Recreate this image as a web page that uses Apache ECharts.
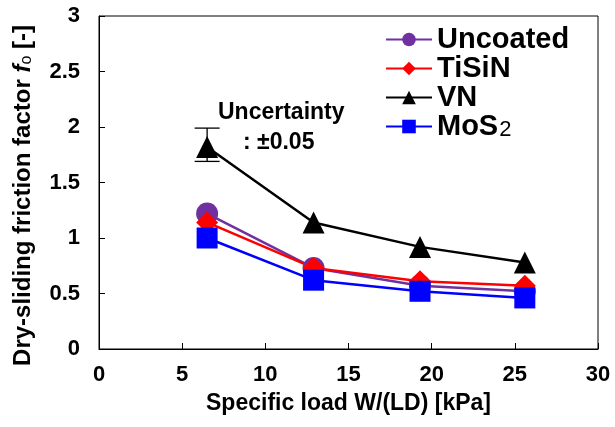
<!DOCTYPE html>
<html>
<head>
<meta charset="utf-8">
<script src="https://cdn.jsdelivr.net/npm/echarts@6/dist/echarts.min.js"></script>
<style>
html,body{margin:0;padding:0;background:#fff;}
#c{width:615px;height:427px;}
</style>
</head>
<body>
<div id="c"></div>
<script>
const loads = [6.5, 12.9, 19.3, 25.6];
const uncoated = [1.22, 0.73, 0.57, 0.52];
const tisin = [1.14, 0.73, 0.61, 0.57];
const vn = [1.82, 1.14, 0.92, 0.78];
const mos2 = [1.00, 0.62, 0.52, 0.46];
const errX = [6.5];
const errLow = [1.69];
const errHigh = [1.99];
const xTicks = [0, 5, 10, 15, 20, 25, 30];
const yTicks = [0, 0.5, 1, 1.5, 2, 2.5, 3];

const FONT = "'Liberation Sans', Arial, sans-serif";
const pairs = (xs, ys) => xs.map((x, i) => [x, ys[i]]);

const chart = echarts.init(document.getElementById('c'), null, {renderer: 'canvas'});

function mkLine(name, data, color, symbol, size) {
  return {
    name: name, type: 'line', data: pairs(loads, data),
    symbol: symbol, symbolSize: size,
    itemStyle: {color: color},
    lineStyle: {color: color, width: 2.5},
    animation: false
  };
}

const option = {
  backgroundColor: '#fff',
  animation: false,
  grid: {left: 99, right: 17, top: 16, bottom: 78, show: true, borderColor: '#000', borderWidth: 1},
  legend: {
    orient: 'vertical', left: 385, top: 25, padding: 0,
    itemWidth: 46, itemHeight: 17, itemGap: 0, itemTextGap: 3,
    textStyle: {
      fontFamily: FONT, fontWeight: 'bold', fontSize: 29, color: '#000', lineHeight: 29,
      rich: {
        b: {fontFamily: FONT, fontWeight: 'bold', fontSize: 29, color: '#000', lineHeight: 29},
        s: {fontFamily: FONT, fontWeight: 'normal', fontSize: 22, color: '#000', lineHeight: 29, verticalAlign: 'bottom', padding: [6, 0, 0, 1]}
      }
    },
    formatter: function (n) { return n === 'MoS2' ? '{b|MoS}{s|2}' : n; },
    data: ['Uncoated', 'TiSiN', 'VN', 'MoS2']
  },
  xAxis: {
    type: 'value', min: xTicks[0], max: xTicks[xTicks.length - 1], interval: 5,
    name: 'Specific load W/(LD) [kPa]', nameLocation: 'middle', nameGap: 43,
    nameTextStyle: {fontFamily: FONT, fontWeight: 'bold', fontSize: 23, color: '#000'},
    axisLine: {show: true, lineStyle: {color: '#000', width: 1}},
    axisTick: {show: true, inside: true, length: 6, lineStyle: {color: '#000'}},
    axisLabel: {fontFamily: FONT, fontWeight: 'bold', fontSize: 22, color: '#000', margin: 15},
    splitLine: {show: false}
  },
  yAxis: {
    type: 'value', min: yTicks[0], max: yTicks[yTicks.length - 1], interval: 0.5,
    name: '{a|Dry-sliding friction factor }{i|f}{s|o}{a| [-]}', nameLocation: 'middle', nameGap: 64,
    nameTextStyle: {
      fontFamily: FONT, fontWeight: 'bold', fontSize: 24, color: '#000',
      padding: [0, 26, 0, 0],
      rich: {
        a: {fontFamily: FONT, fontWeight: 'bold', fontSize: 24, color: '#000'},
        i: {fontFamily: FONT, fontWeight: 'bold', fontStyle: 'italic', fontSize: 24, color: '#000'},
        s: {fontFamily: FONT, fontWeight: 'normal', fontSize: 16, color: '#000', verticalAlign: 'bottom', padding: [8, 0, 0, 0]}
      }
    },
    axisLine: {show: true, lineStyle: {color: '#000', width: 1}},
    axisTick: {show: true, inside: true, length: 6, lineStyle: {color: '#000'}},
    axisLabel: {fontFamily: FONT, fontWeight: 'bold', fontSize: 22, color: '#000', margin: 19},
    splitLine: {show: false}
  },
  series: [
    mkLine('Uncoated', uncoated, '#7030A0', 'circle', 22),
    mkLine('TiSiN', tisin, '#FF0000', 'diamond', 22),
    mkLine('VN', vn, '#000000', 'triangle', 22),
    mkLine('MoS2', mos2, '#0000FF', 'rect', 21),
    {
      type: 'custom', name: 'err', animation: false, z: 5,
      data: errX.map((x, i) => [x, errLow[i], errHigh[i]]),
      renderItem: function (params, api) {
        const lo = api.coord([api.value(0), api.value(1)]);
        const hi = api.coord([api.value(0), api.value(2)]);
        const hw = 12.5;
        const st = {stroke: '#000', lineWidth: 1.3};
        return {type: 'group', children: [
          {type: 'line', shape: {x1: lo[0], y1: lo[1], x2: hi[0], y2: hi[1]}, style: st},
          {type: 'line', shape: {x1: lo[0] - hw, y1: lo[1], x2: lo[0] + hw, y2: lo[1]}, style: st},
          {type: 'line', shape: {x1: hi[0] - hw, y1: hi[1], x2: hi[0] + hw, y2: hi[1]}, style: st}
        ]};
      }
    }
  ],
  graphic: [
    {type: 'text', left: 218, top: 101, style: {text: 'Uncertainty', font: 'bold 23px ' + FONT, fill: '#000'}},
    {type: 'text', left: 243, top: 131, style: {text: ': \u00b10.05', font: 'bold 23px ' + FONT, fill: '#000'}}
  ]
};
chart.setOption(option);
</script>
</body>
</html>
